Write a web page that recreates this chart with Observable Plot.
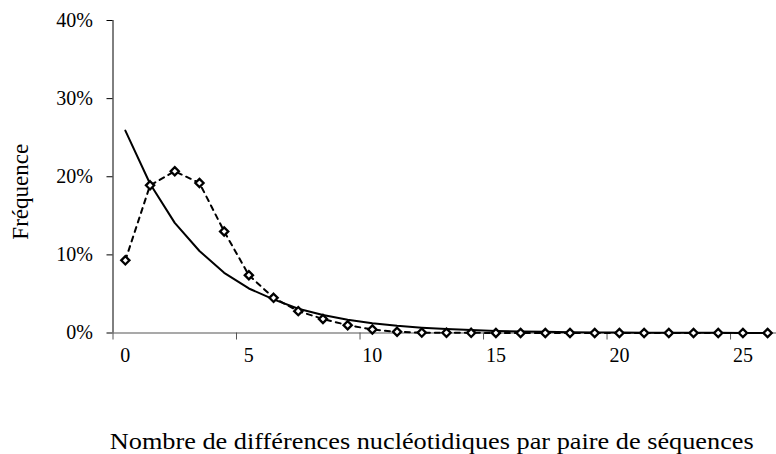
<!DOCTYPE html>
<html>
<head>
<meta charset="utf-8">
<script src="https://cdn.jsdelivr.net/npm/d3@7"></script>
<script src="https://cdn.jsdelivr.net/npm/@observablehq/plot@0.6"></script>
<style>
  body { margin: 0; background: #fff; }
</style>
</head>
<body>
<div id="chart"></div>
<script>
// Number of pairwise nucleotide differences (mismatch distribution)
const differences = [0, 1, 2, 3, 4, 5, 6, 7, 8, 9, 10, 11, 12, 13, 14, 15, 16, 17, 18, 19, 20, 21, 22, 23, 24, 25, 26];

// Observed frequency (%) — dashed line with diamonds
const observed = [9.3, 18.9, 20.7, 19.2, 13.0, 7.4, 4.5, 2.8, 1.8, 1.0, 0.45, 0.15, 0.05, 0.03, 0.02, 0.01, 0, 0, 0, 0, 0, 0, 0, 0, 0, 0, 0];

// Expected frequency (%) — solid line
const expected = [25.9, 19.1, 14.1, 10.5, 7.7, 5.7, 4.3, 3.1, 2.3, 1.7, 1.25, 0.92, 0.68, 0.5, 0.37, 0.27, 0.2, 0.15, 0.11, 0.08, 0.06, 0.04, 0.03, 0.02, 0.02, 0.01, 0.01];

// Axis ticks
const xTickLabels = [0, 5, 10, 15, 20, 25];
const xTickMarks = [-0.5, 4.5, 9.5, 14.5, 19.5, 24.5];
const yTicks = [0, 0.1, 0.2, 0.3, 0.4];

const xTitle = "Nombre de différences nucléotidiques par paire de séquences";
const yTitle = "Fréquence";

const rows = differences.map((k, i) => ({
  k,
  observed: observed[i] / 100,
  expected: expected[i] / 100
}));

const chart = Plot.plot({
  width: 776,
  height: 454,
  marginLeft: 112.5,
  marginRight: 0,
  marginTop: 20,
  marginBottom: 121.5,
  style: {
    fontFamily: "'Liberation Serif', 'Times New Roman', serif",
    fontSize: "20px",
    background: "#fff",
    color: "#000",
    overflow: "visible"
  },
  x: { domain: [-0.5, 26.36] },
  y: { domain: [0, 0.4] },
  marks: [
    Plot.axisY({
      ticks: yTicks,
      tickSize: 6,
      tickPadding: 14,
      tickFormat: d3.format(".0%"),
      label: null,
      fontSize: 20
    }),
    Plot.ruleX([-0.5], { stroke: "#000", strokeWidth: 1 }),
    Plot.axisX({
      ticks: xTickMarks,
      tickSize: 7,
      tickFormat: () => "",
      label: null,
      stroke: "#555"
    }),
    Plot.axisX({
      ticks: xTickLabels,
      tickSize: 0,
      tickPadding: 15,
      label: null,
      fontSize: 20
    }),
    Plot.ruleY([0], { stroke: "#555", strokeWidth: 1.2 }),
    Plot.line(rows, {
      x: "k",
      y: "expected",
      stroke: "#000",
      strokeWidth: 2,
      curve: "linear"
    }),
    Plot.line(rows, {
      x: "k",
      y: "observed",
      stroke: "#000",
      strokeWidth: 2,
      strokeDasharray: "5,5",
      curve: "linear"
    }),
    Plot.dot(rows, {
      x: "k",
      y: "observed",
      symbol: "diamond2",
      r: 3.7,
      stroke: "#000",
      strokeWidth: 2.3,
      fill: "#fff"
    }),
    Plot.text([yTitle], {
      frameAnchor: "left",
      textAnchor: "middle",
      rotate: -90,
      dx: -92.5,
      dy: 15,
      fontSize: 23,
      lineAnchor: "middle"
    }),
    Plot.text([xTitle], {
      frameAnchor: "bottom",
      textAnchor: "middle",
      dx: -13,
      dy: 115.5,
      fontSize: 23,
      lineAnchor: "bottom"
    })
  ]
});

// Widen the x-axis title to its set span
d3.select(chart).selectAll("text")
  .filter(function () { return this.textContent === xTitle; })
  .attr("textLength", 644)
  .attr("lengthAdjust", "spacingAndGlyphs");

document.getElementById("chart").appendChild(chart);
</script>
</body>
</html>
